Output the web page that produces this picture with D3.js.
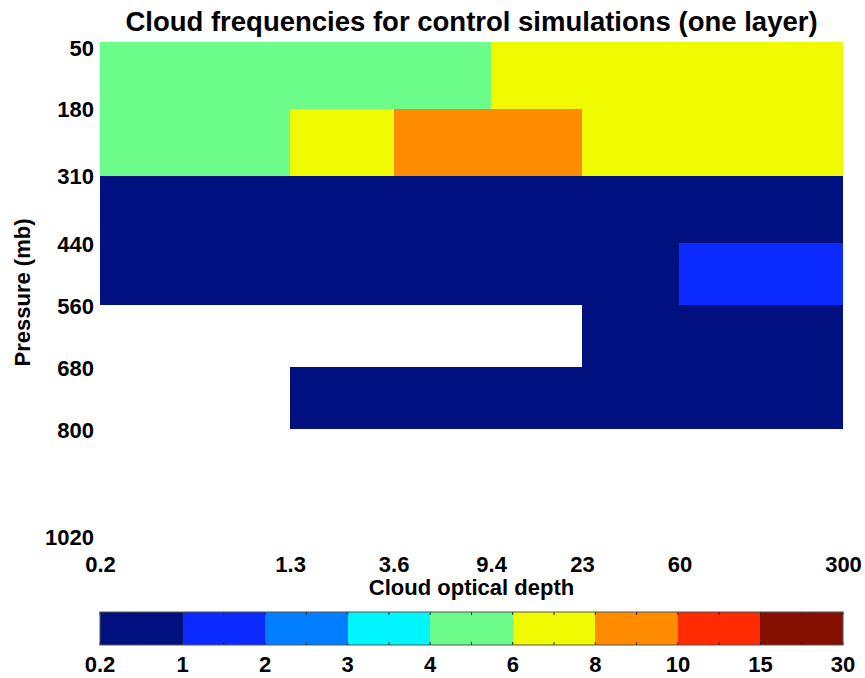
<!DOCTYPE html>
<html>
<head>
<meta charset="utf-8">
<script src="https://cdn.jsdelivr.net/npm/d3@7"></script>
<style>
  html, body { margin: 0; padding: 0; background: #fff; }
  svg { display: block; font-family: "Liberation Sans", Arial, sans-serif; font-weight: bold; }
</style>
</head>
<body>
<svg id="chart" width="865" height="678"></svg>
<script>
// Bin edges of the ISCCP-style joint histogram
const tauEdges = [0.2, 1.3, 3.6, 9.4, 23, 60, 300];
const presEdges = [50, 180, 310, 440, 560, 680, 800, 1020];

// Cloud frequency per (pressure bin, optical depth bin); null = no cloud
const freqRow50   = [5, 5, 5, 7, 7, 7];
const freqRow180  = [5, 7, 9, 9, 7, 7];
const freqRow310  = [0.6, 0.6, 0.6, 0.6, 0.6, 0.6];
const freqRow440  = [0.6, 0.6, 0.6, 0.6, 0.6, 1.5];
const freqRow560  = [null, null, null, null, 0.6, 0.6];
const freqRow680  = [null, 0.6, 0.6, 0.6, 0.6, 0.6];
const freqRow800  = [null, null, null, null, null, null];
const freqRows = [freqRow50, freqRow180, freqRow310, freqRow440, freqRow560, freqRow680, freqRow800];

// Colour bar levels and colours
const levelLabels = ["0.2", "1", "2", "3", "4", "6", "8", "10", "15", "30"];
const levelValues = [0.2, 1, 2, 3, 4, 6, 8, 10, 15, 30];
const levelColors = ["#00107f", "#0a2aff", "#007eff", "#00f5ff", "#6cfc8a",
                     "#f0fa00", "#ff8c00", "#ff2a00", "#850f00"];

const svg = d3.select("#chart");
const plotL = 100, plotR = 843, plotT = 42, plotB = 543;
const labelSize = 22;

const x = d3.scaleLog().domain([0.2, 300]).range([plotL, plotR]);
const y = d3.scaleLinear().domain([50, 1020]).range([plotT, plotB]);
const color = d3.scaleThreshold().domain(levelValues.slice(1, -1)).range(levelColors);

// Cells
const cells = [];
freqRows.forEach((row, i) => row.forEach((v, j) => {
  if (v !== null) cells.push({ p0: presEdges[i], p1: presEdges[i + 1], t0: tauEdges[j], t1: tauEdges[j + 1], v });
}));
svg.append("g").selectAll("rect").data(cells).join("rect")
  .attr("x", d => x(d.t0))
  .attr("y", d => y(d.p0))
  .attr("width", d => x(d.t1) - x(d.t0))
  .attr("height", d => y(d.p1) - y(d.p0))
  .attr("fill", d => color(d.v))
  .attr("shape-rendering", "crispEdges");

// Axes (labels only)
const xAxis = svg.append("g").attr("transform", `translate(0,${plotB})`)
  .call(d3.axisBottom(x).tickValues(tauEdges).tickFormat(d3.format("")).tickSize(0).tickPadding(13));
xAxis.select(".domain").remove();
xAxis.selectAll("text").attr("font-size", labelSize).attr("font-family", "Liberation Sans, Arial, sans-serif")
  .attr("font-weight", "bold").attr("fill", "#000");

const yAxis = svg.append("g").attr("transform", `translate(${plotL},0)`)
  .call(d3.axisLeft(y).tickValues(presEdges).tickFormat(d3.format("d")).tickSize(0).tickPadding(6));
yAxis.select(".domain").remove();
yAxis.selectAll("text").attr("font-size", labelSize).attr("font-family", "Liberation Sans, Arial, sans-serif")
  .attr("font-weight", "bold").attr("fill", "#000")
  .attr("dy", (d, i) => i === 0 ? "0.62em" : i === presEdges.length - 1 ? "0.08em" : "0.35em");

// Titles
svg.append("text").attr("x", (plotL + plotR) / 2).attr("y", 31).attr("text-anchor", "middle")
  .attr("font-size", 27.5).text("Cloud frequencies for control simulations (one layer)");
svg.append("text").attr("x", (plotL + plotR) / 2).attr("y", 595).attr("text-anchor", "middle")
  .attr("font-size", labelSize).text("Cloud optical depth");
svg.append("text").attr("transform", `translate(30,${(plotT + plotB) / 2}) rotate(-90)`)
  .attr("text-anchor", "middle").attr("font-size", labelSize).text("Pressure (mb)");

// Colour bar
const cbTop = 612, cbH = 33;
const cb = d3.scaleLinear().domain([0, levelValues.length - 1]).range([plotL, plotR]);
const cbg = svg.append("g");
cbg.selectAll("rect").data(levelColors).join("rect")
  .attr("x", (d, i) => cb(i)).attr("y", cbTop)
  .attr("width", (d, i) => cb(i + 1) - cb(i)).attr("height", cbH)
  .attr("fill", d => d).attr("shape-rendering", "crispEdges");
const halfTicks = d3.range(0, levelValues.length - 0.5, 0.5);
cbg.selectAll("line.tt").data(halfTicks).join("line").attr("class", "tt")
  .attr("x1", d => cb(d)).attr("x2", d => cb(d)).attr("y1", cbTop).attr("y2", cbTop + 3)
  .attr("stroke", "#222").attr("stroke-width", 1);
cbg.selectAll("line.bt").data(halfTicks).join("line").attr("class", "bt")
  .attr("x1", d => cb(d)).attr("x2", d => cb(d)).attr("y1", cbTop + cbH - 3).attr("y2", cbTop + cbH)
  .attr("stroke", "#222").attr("stroke-width", 1);
cbg.append("rect").attr("x", plotL).attr("y", cbTop).attr("width", plotR - plotL).attr("height", cbH)
  .attr("fill", "none").attr("stroke", "#555").attr("stroke-width", 1);
cbg.selectAll("text").data(levelLabels).join("text")
  .attr("x", (d, i) => cb(i)).attr("y", 672).attr("text-anchor", "middle")
  .attr("font-size", labelSize).text(d => d);
</script>
</body>
</html>
